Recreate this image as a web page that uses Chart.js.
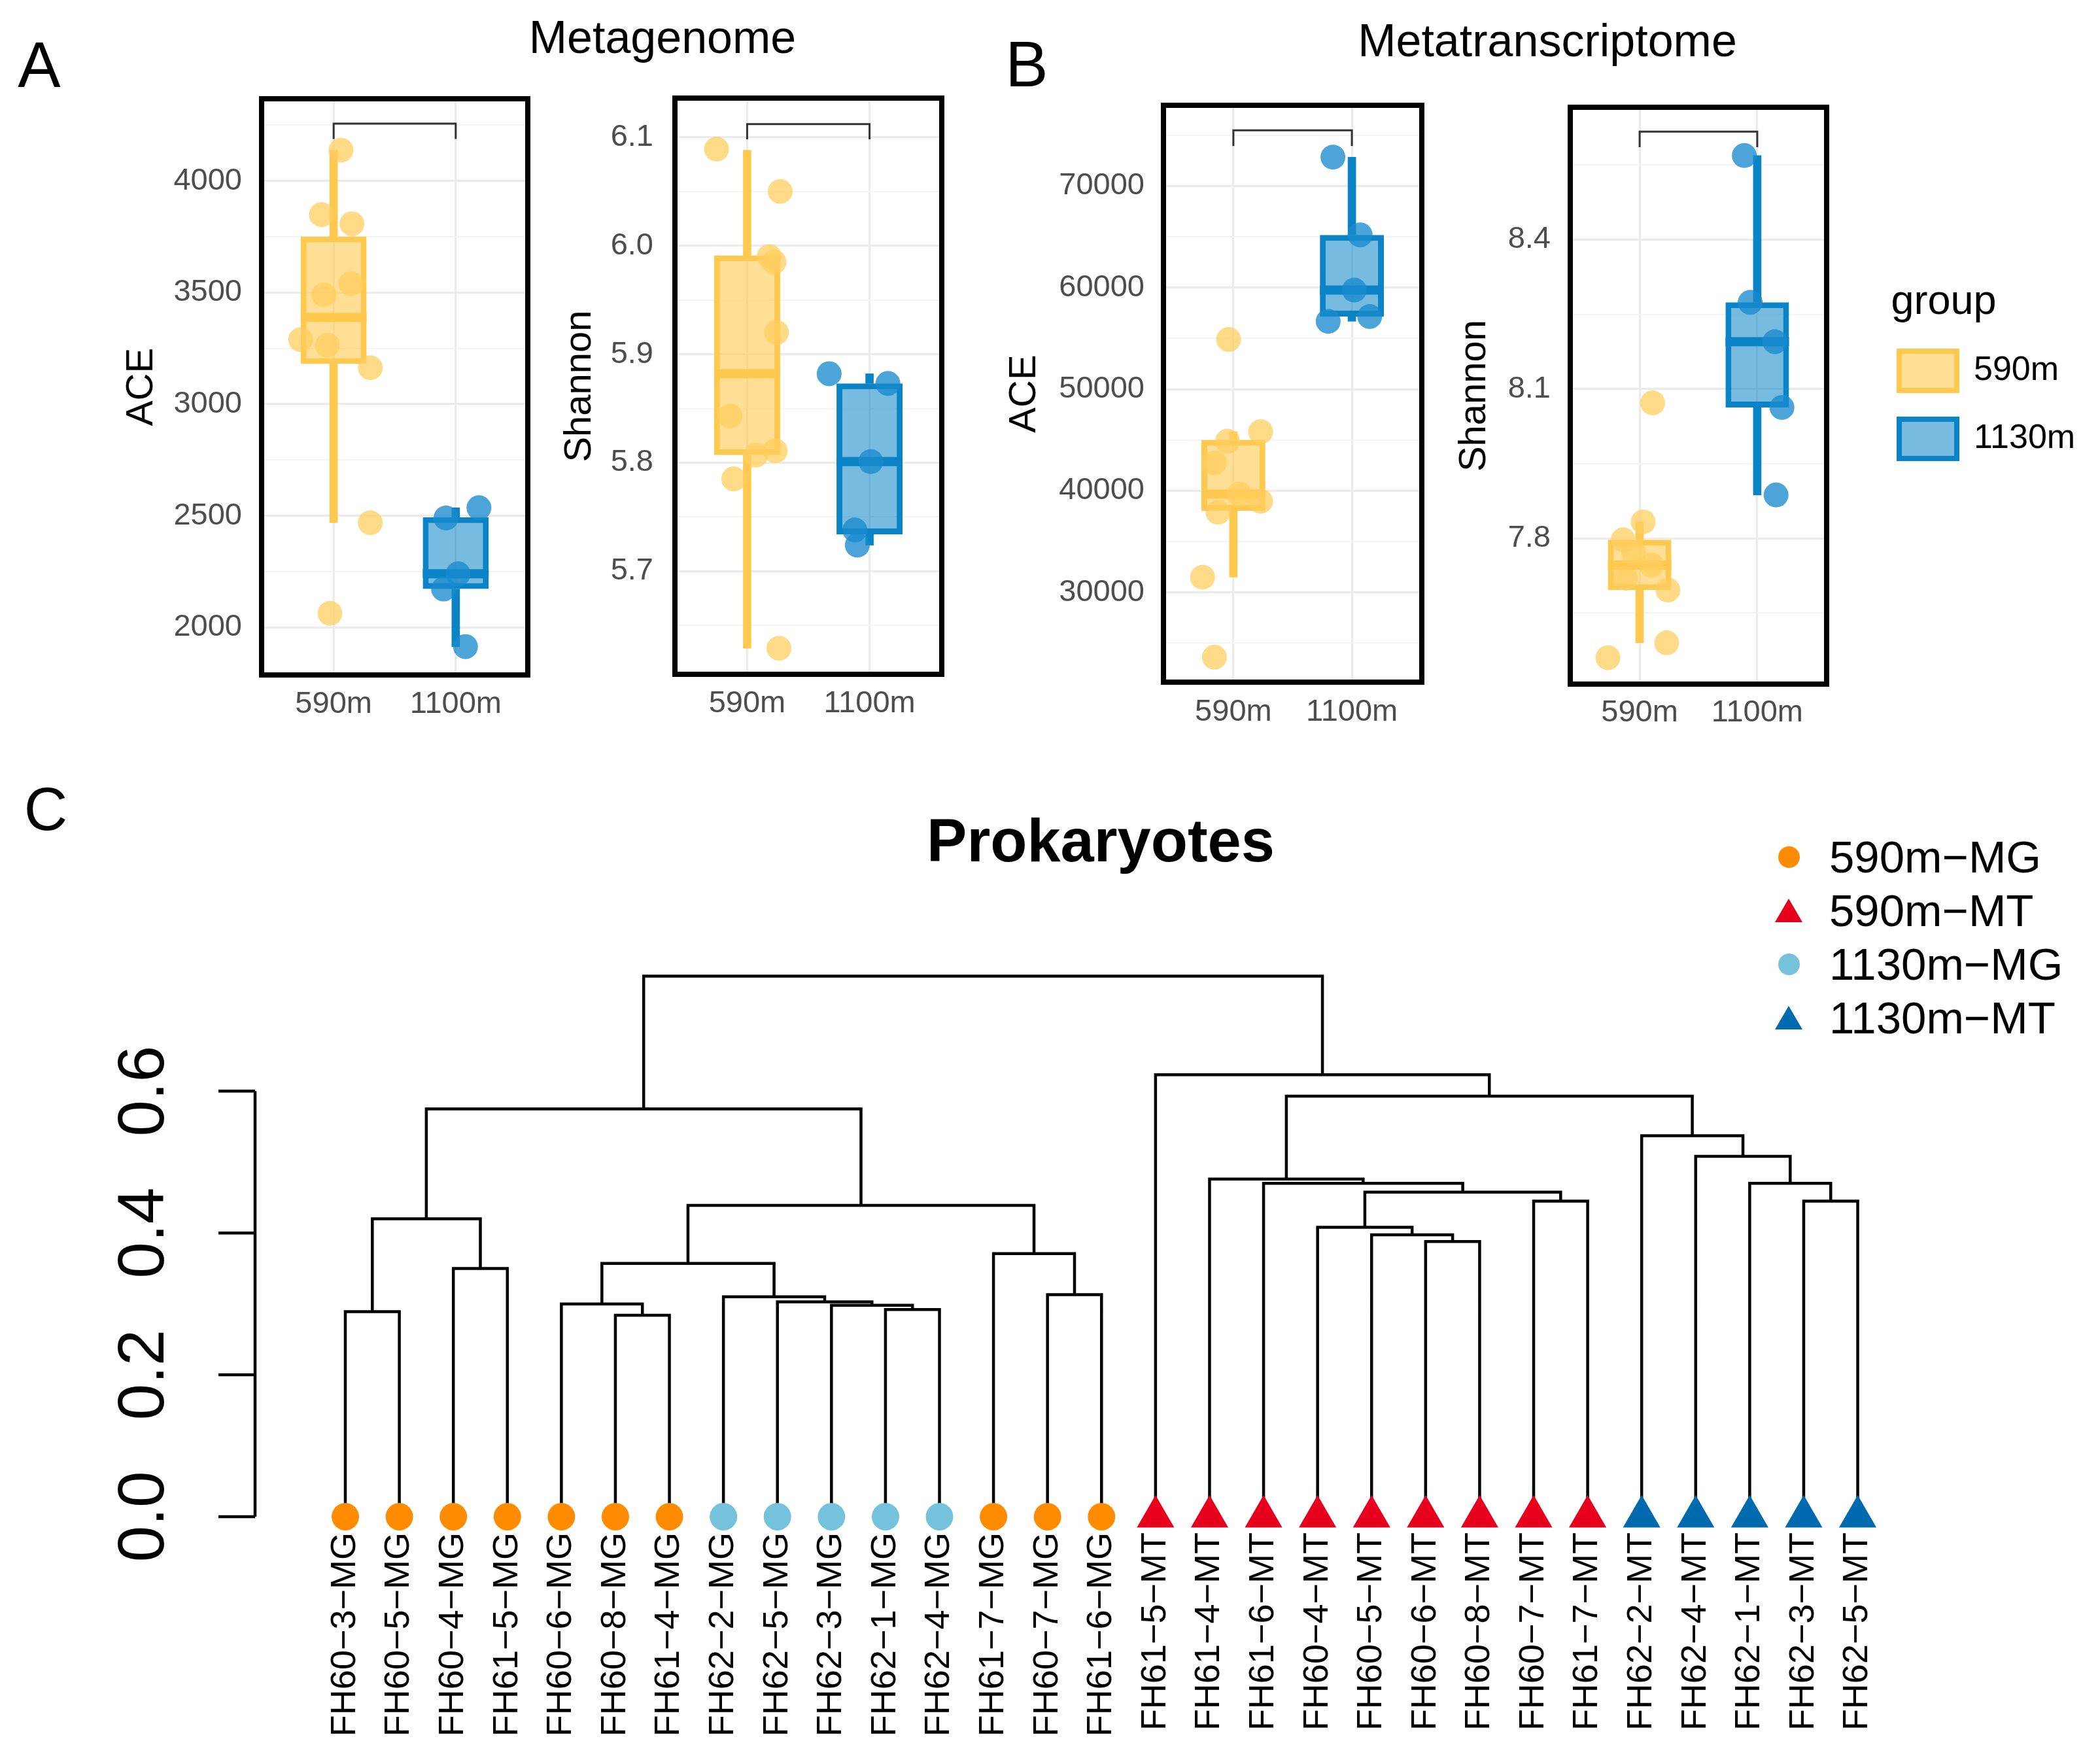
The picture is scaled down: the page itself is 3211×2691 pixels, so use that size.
<!DOCTYPE html>
<html>
<head>
<meta charset="utf-8">
<script src="https://cdn.jsdelivr.net/npm/chart.js@4.4.1/dist/chart.umd.min.js"></script>
<style>
  html, body { margin: 0; padding: 0; background: #fff; }
  body { width: 3211px; height: 2691px; position: relative; overflow: hidden; font-family: 'Liberation Sans', Arial, sans-serif; }
  canvas { position: absolute; }
  .t { position: absolute; transform: translate(-50%, -50%); white-space: nowrap; line-height: 1; color: #000; }
  .legrow { position: absolute; display: flex; align-items: center; height: 80px; font-size: 69px; line-height: 1; }
  .mk { width: 70px; display: flex; justify-content: center; align-items: center; margin-right: 27px; }
</style>
</head>
<body>
<div class="t" style="left:60px; top:99px; font-size:98px">A</div>
<div class="t" style="left:1570px; top:98px; font-size:98px">B</div>
<div class="t" style="left:70px; top:1237px; font-size:92px">C</div>
<div class="t" style="left:1013px; top:57px; font-size:70px">Metagenome</div>
<div class="t" style="left:2366px; top:62px; font-size:70px">Metatranscriptome</div>

<canvas id="cA1" width="700" height="1010" style="left:150px; top:110px"></canvas>
<canvas id="cA2" width="660" height="1010" style="left:820px; top:110px"></canvas>
<canvas id="cB1" width="700" height="1010" style="left:1500px; top:120px"></canvas>
<canvas id="cB2" width="1023" height="1010" style="left:2188px; top:120px"></canvas>
<canvas id="cC" width="3211" height="1541" style="left:0px; top:1150px"></canvas>
<div id="dleg"></div>

<script>
// ---- box plot data ----
const groups = ['590m', '1100m'];
const legendGroups = ['590m', '1130m'];

// A: metagenome, ACE
const mgAce590 = [4138, 3849, 3808, 3540, 3490, 3289, 3264, 3163, 2469, 2063];
const mgAce590Jit = [0.06, -0.10, 0.15, 0.14, -0.08, -0.27, -0.05, 0.30, 0.30, -0.03];
const mgAce1100 = [2536, 2490, 2240, 2172, 1914];
const mgAce1100Jit = [0.19, -0.08, 0.02, -0.10, 0.08];
const mgAceBox590 = [2469, 3180, 3389, 3751, 4138];   // lower whisker, Q1, median, Q3, upper whisker
const mgAceBox1100 = [1914, 2172, 2240, 2494, 2536];
const mgAceBracket = [4257, 4188];
const mgAceTicks = [2000, 2500, 3000, 3500, 4000];

// A: metagenome, Shannon
const mgSha590 = [6.089, 6.050, 5.990, 5.985, 5.920, 5.843, 5.811, 5.807, 5.785, 5.629];
const mgSha590Jit = [-0.25, 0.27, 0.18, 0.22, 0.24, -0.14, 0.23, 0.07, -0.11, 0.26];
const mgSha1100 = [5.882, 5.873, 5.801, 5.738, 5.724];
const mgSha1100Jit = [-0.33, 0.15, 0.01, -0.12, -0.10];
const mgShaBox590 = [5.629, 5.807, 5.882, 5.991, 6.088];
const mgShaBox1100 = [5.724, 5.734, 5.801, 5.873, 5.882];
const mgShaBracket = [6.112, 6.098];
const mgShaTicks = [5.7, 5.8, 5.9, 6.0, 6.1];

// B: metatranscriptome, ACE
const mtAce590 = [54888, 45820, 44880, 42750, 39680, 38970, 37890, 31500, 23625];
const mtAce590Jit = [-0.04, 0.23, -0.05, -0.16, 0.05, 0.23, -0.13, -0.26, -0.16];
const mtAce1100 = [72830, 65180, 59750, 57150, 56680];
const mtAce1100Jit = [-0.16, 0.07, 0.02, 0.15, -0.20];
const mtAceBox590 = [31500, 38030, 39680, 45018, 45820];
const mtAceBox1100 = [56680, 57150, 59750, 65180, 72830];
const mtAceBracket = [75480, 73920];
const mtAceTicks = [30000, 40000, 50000, 60000, 70000];

// B: metatranscriptome, Shannon
const mtSha590 = [8.072, 7.833, 7.797, 7.770, 7.746, 7.720, 7.696, 7.590, 7.560];
const mtSha590Jit = [0.11, 0.03, -0.14, -0.05, 0.10, -0.12, 0.24, 0.23, -0.27];
const mtSha1100 = [8.569, 8.274, 8.195, 8.063, 7.887];
const mtSha1100Jit = [-0.11, -0.06, 0.15, 0.21, 0.16];
const mtShaBox590 = [7.590, 7.696, 7.746, 7.797, 7.833];
const mtShaBox1100 = [7.887, 8.063, 8.195, 8.274, 8.569];
const mtShaBracket = [8.617, 8.586];
const mtShaTicks = [7.8, 8.1, 8.4];

// ---- dendrogram data ----
const leafNames = ['FH60-3-MG', 'FH60-5-MG', 'FH60-4-MG', 'FH61-5-MG', 'FH60-6-MG', 'FH60-8-MG', 'FH61-4-MG',
  'FH62-2-MG', 'FH62-5-MG', 'FH62-3-MG', 'FH62-1-MG', 'FH62-4-MG', 'FH61-7-MG', 'FH60-7-MG', 'FH61-6-MG',
  'FH61-5-MT', 'FH61-4-MT', 'FH61-6-MT', 'FH60-4-MT', 'FH60-5-MT', 'FH60-6-MT', 'FH60-8-MT', 'FH60-7-MT', 'FH61-7-MT',
  'FH62-2-MT', 'FH62-4-MT', 'FH62-1-MT', 'FH62-3-MT', 'FH62-5-MT'];
const dendroGroups = ['590m-MG', '590m-MT', '1130m-MG', '1130m-MT'];
const leafGroup = [0, 0, 0, 0, 0, 0, 0, 2, 2, 2, 2, 2, 0, 0, 0, 1, 1, 1, 1, 1, 1, 1, 1, 1, 3, 3, 3, 3, 3];
// hclust style merges: negative = leaf position, positive = earlier merge
const mergeA = [-6, -1, -11, -10, -5, -9, -8, -14, -3, 5, -13, -21, -20, -19, 2, 10, -23, -28, 14, -18, -27, -17, -26, -25, 15, 22, -16, 25];
const mergeB = [-7, -2, -12, 3, 1, 4, 6, -15, -4, 7, 8, -22, 12, 13, 9, 11, -24, -29, 17, 19, 18, 20, 21, 23, 16, 24, 26, 27];
const mergeH = [0.284, 0.289, 0.292, 0.298, 0.300, 0.303, 0.310, 0.313, 0.350, 0.357, 0.371, 0.388, 0.3975, 0.408,
  0.420, 0.439, 0.445, 0.445, 0.4575, 0.470, 0.470, 0.476, 0.508, 0.537, 0.575, 0.593, 0.623, 0.762];
const dendroTicks = [0, 0.2, 0.4, 0.6];

// ---- styles ----
const font = "'Liberation Sans', Arial, sans-serif";
const narrow = "'Liberation Sans Narrow', 'Liberation Sans', Arial, sans-serif";
const lineCol = ['#FFC84E', '#0A84C6'];
const boxFill = ['rgba(255,200,78,0.6)', 'rgba(10,132,198,0.55)'];
const ptFill = ['rgba(255,205,95,0.75)', 'rgba(25,138,205,0.78)'];
const markStyle = [
  {shape: 'circle', r: 21, color: '#FF8C00'},
  {shape: 'triangle', r: 33, color: '#E6001E'},
  {shape: 'circle', r: 21, color: '#74C2DB'},
  {shape: 'triangle', r: 33, color: '#006AAE'}
];

Chart.defaults.font.family = font;
Chart.defaults.animation = false;

const boxExtras = {
  id: 'boxExtras',
  afterDatasetDraw(chart, args, o) {
    if (chart.data.datasets[args.index].label !== 'box') return;
    const ctx = chart.ctx, ys = chart.scales.y;
    ctx.save();
    ctx.lineWidth = 14;
    args.meta.data.forEach((el, i) => {
      const py = ys.getPixelForValue(o.median[i]);
      ctx.strokeStyle = lineCol[i];
      ctx.beginPath();
      ctx.moveTo(el.x - el.width / 2, py);
      ctx.lineTo(el.x + el.width / 2, py);
      ctx.stroke();
    });
    ctx.restore();
  },
  afterDraw(chart, args, o) {
    const ctx = chart.ctx, xs = chart.scales.x, ys = chart.scales.y, a = chart.chartArea;
    const x0 = xs.getPixelForValue(0), x1 = xs.getPixelForValue(1);
    const yt = ys.getPixelForValue(o.bracket[0]), yb = ys.getPixelForValue(o.bracket[1]);
    ctx.save();
    ctx.strokeStyle = '#333';
    ctx.lineWidth = 3;
    ctx.beginPath();
    ctx.moveTo(x0, yb); ctx.lineTo(x0, yt); ctx.lineTo(x1, yt); ctx.lineTo(x1, yb);
    ctx.stroke();
    ctx.strokeStyle = '#000';
    ctx.lineWidth = 8;
    ctx.strokeRect(a.left, a.top, a.width, a.height);
    ctx.restore();
  }
};

function boxChart(id, c) {
  const step = c.ticks[1] - c.ticks[0];
  const [lo, hi] = c.range;
  const gridVals = [];
  for (let k = Math.ceil((lo - c.ticks[0]) / (step / 2)); c.ticks[0] + k * step / 2 <= hi; k++) {
    gridVals.push(+(c.ticks[0] + k * step / 2).toFixed(6));
  }
  const isMajor = v => c.ticks.some(t => Math.abs(t - v) < step * 1e-6);
  const pts = [], ptCol = [];
  c.pts.forEach((arr, g) => arr.forEach((v, j) => { pts.push({x: g + c.jit[g][j], y: v}); ptCol.push(ptFill[g]); }));
  const barOpts = {type: 'bar', grouped: false, categoryPercentage: 1, borderSkipped: false};

  const options = {
    responsive: false,
    devicePixelRatio: 1,
    layout: {autoPadding: false, padding: {top: c.area.t - c.canvas.t, right: c.padRight, left: 0, bottom: 0}},
    plugins: {
      legend: {display: false},
      tooltip: {enabled: false},
      boxExtras: {median: c.boxes.map(b => b[2]), bracket: c.bracket}
    },
    scales: {
      x: {
        type: 'linear', min: -0.59, max: 1.59, offset: false,
        afterBuildTicks: s => { s.ticks = groups.map((g, i) => ({value: i})); },
        afterFit: s => { s.height = c.canvas.t + c.canvas.h - c.area.b; s.paddingLeft = 0; s.paddingRight = 0; },
        ticks: {callback: v => groups[v], font: {size: 47}, color: '#4D4D4D', padding: c.xPad, autoSkip: false, maxRotation: 0},
        grid: {color: '#EBEBEB', lineWidth: 3, drawTicks: false, offset: false},
        border: {display: false}
      },
      y: {
        type: 'linear', min: lo, max: hi,
        afterBuildTicks: s => { s.ticks = gridVals.map(v => ({value: v, major: isMajor(v)})); },
        afterFit: s => { s.width = c.area.l - c.canvas.l; s.paddingTop = 0; s.paddingBottom = 0; },
        ticks: {
          callback: (v, i, t) => t[i].major ? v.toFixed(c.dec) : '',
          font: {size: 47}, color: '#4D4D4D', padding: c.yPad, autoSkip: false
        },
        grid: {
          color: ctx => ctx.tick && ctx.tick.major ? '#EBEBEB' : '#F3F3F3',
          lineWidth: ctx => ctx.tick && ctx.tick.major ? 3 : 2,
          drawTicks: false
        },
        border: {display: false},
        title: {display: true, text: c.title, font: {size: 58}, color: '#000', padding: {top: 32, bottom: 0}}
      }
    }
  };
  if (c.legend) {
    options.scales.sp = {
      position: 'right', min: 0, max: 1,
      afterFit: s => { s.width = c.legend.spacer; s.paddingTop = 0; s.paddingBottom = 0; },
      ticks: {display: false}, grid: {display: false, drawTicks: false}, border: {display: false}
    };
    options.plugins.legend = {
      display: true, position: 'right', align: 'start', maxWidth: 320,
      title: {display: true, text: '\u2002group', color: '#000', font: {size: 63, lineHeight: 1}, position: 'start',
        padding: {top: 267, bottom: -1}},
      labels: {
        boxWidth: 88, boxHeight: 60, padding: 44, color: '#000', font: {size: 52},
        generateLabels: () => legendGroups.map((g, i) => ({
          text: g, fillStyle: boxFill[i], strokeStyle: lineCol[i], lineWidth: 8, hidden: false, datasetIndex: i
        }))
      }
    };
  }

  return new Chart(document.getElementById(id), {
    type: 'bar',
    data: {
      datasets: [
        Object.assign({label: 'lowWhisker', data: c.boxes.map((b, i) => ({x: i, y: [b[0], b[1]]})),
          backgroundColor: lineCol, barPercentage: 1, maxBarThickness: 12, order: 3}, barOpts),
        Object.assign({label: 'highWhisker', data: c.boxes.map((b, i) => ({x: i, y: [b[3], b[4]]})),
          backgroundColor: lineCol, barPercentage: 1, maxBarThickness: 12, order: 2}, barOpts),
        Object.assign({label: 'box', data: c.boxes.map((b, i) => ({x: i, y: [b[1], b[3]]})),
          backgroundColor: boxFill, borderColor: lineCol, borderWidth: 9, barPercentage: 0.54, order: 1}, barOpts),
        {label: 'points', type: 'scatter', data: pts, pointBackgroundColor: ptCol, pointBorderWidth: 0,
          pointRadius: 19, order: 0}
      ]
    },
    options: options,
    plugins: [boxExtras]
  });
}

boxChart('cA1', {
  pts: [mgAce590, mgAce1100], jit: [mgAce590Jit, mgAce1100Jit], boxes: [mgAceBox590, mgAceBox1100],
  bracket: mgAceBracket, ticks: mgAceTicks, range: [1787, 4368], dec: 0, title: 'ACE',
  canvas: {l: 150, t: 110, h: 1010}, area: {l: 400, t: 151, b: 1032}, padRight: 43, yPad: 30, xPad: 17
});
boxChart('cA2', {
  pts: [mgSha590, mgSha1100], jit: [mgSha590Jit, mgSha1100Jit], boxes: [mgShaBox590, mgShaBox1100],
  bracket: mgShaBracket, ticks: mgShaTicks, range: [5.605, 6.136], dec: 1, title: 'Shannon',
  canvas: {l: 820, t: 110, h: 1010}, area: {l: 1032, t: 150, b: 1031}, padRight: 40, yPad: 33, xPad: 17
});
boxChart('cB1', {
  pts: [mtAce590, mtAce1100], jit: [mtAce590Jit, mtAce1100Jit], boxes: [mtAceBox590, mtAceBox1100],
  bracket: mtAceBracket, ticks: mtAceTicks, range: [21169, 77934], dec: 0, title: 'ACE',
  canvas: {l: 1500, t: 120, h: 1010}, area: {l: 1779, t: 161, b: 1043}, padRight: 26, yPad: 29, xPad: 18
});
boxChart('cB2', {
  pts: [mtSha590, mtSha1100], jit: [mtSha590Jit, mtSha1100Jit], boxes: [mtShaBox590, mtShaBox1100],
  bracket: mtShaBracket, ticks: mtShaTicks, range: [7.507, 8.666], dec: 1, title: 'Shannon',
  canvas: {l: 2188, t: 120, h: 1010}, area: {l: 2401, t: 164, b: 1046}, padRight: 31, yPad: 30, xPad: 16,
  legend: {spacer: 67}
});

// ---- dendrogram ----
const nodeX = [], nodeH = [];
const pos = k => k < 0 ? {x: -k, h: 0} : {x: nodeX[k - 1], h: nodeH[k - 1]};
const segs = [];
mergeH.forEach((h, i) => {
  const a = pos(mergeA[i]), b = pos(mergeB[i]);
  segs.push({x: a.x, y: a.h}, {x: a.x, y: h}, {x: b.x, y: h}, {x: b.x, y: b.h}, {x: b.x, y: null});
  nodeX.push((a.x + b.x) / 2);
  nodeH.push(h);
});

const dendroAxis = {
  id: 'dendroAxis',
  afterDraw(chart, args, o) {
    const ys = chart.scales.y, ctx = chart.ctx, x0 = chart.chartArea.left;
    ctx.save();
    ctx.strokeStyle = '#000';
    ctx.lineWidth = 4.5;
    ctx.beginPath();
    ctx.moveTo(x0, ys.getPixelForValue(o.ticks[0]));
    ctx.lineTo(x0, ys.getPixelForValue(o.ticks[o.ticks.length - 1]));
    o.ticks.forEach(v => {
      const py = ys.getPixelForValue(v);
      ctx.moveTo(x0, py);
      ctx.lineTo(x0 - 56, py);
    });
    ctx.stroke();
    ctx.fillStyle = '#000';
    ctx.font = '100px ' + narrow;
    ctx.textAlign = 'center';
    ctx.textBaseline = 'middle';
    o.ticks.forEach(v => {
      ctx.save();
      ctx.translate(x0 - 168, ys.getPixelForValue(v));
      ctx.rotate(-Math.PI / 2);
      ctx.fillText(v.toFixed(1), 0, 0);
      ctx.restore();
    });
    ctx.restore();
  }
};

new Chart(document.getElementById('cC'), {
  type: 'scatter',
  data: {
    datasets: [
      {label: 'tree', data: segs, showLine: true, borderColor: '#000', borderWidth: 4.5, pointRadius: 0,
        spanGaps: false, order: 1, clip: false}
    ].concat(dendroGroups.map((g, gi) => ({
      label: g,
      data: leafNames.map((n, i) => ({x: i + 1, y: 0, g: leafGroup[i]})).filter(p => p.g === gi),
      pointStyle: markStyle[gi].shape, pointRadius: markStyle[gi].r,
      pointBackgroundColor: markStyle[gi].color, pointBorderWidth: 0, order: 0, clip: false
    })))
  },
  options: {
    responsive: false,
    devicePixelRatio: 1,
    layout: {autoPadding: false, padding: {left: 390, right: 235, top: 0, bottom: 0}},
    plugins: {
      legend: {display: false},
      tooltip: {enabled: false},
      title: {display: true, text: 'Prokaryotes', color: '#000', fullSize: false,
        font: {size: 92, weight: 'bold'}, padding: {top: 86, bottom: 105}},
      dendroAxis: {ticks: dendroTicks}
    },
    scales: {
      x: {
        type: 'linear', min: -0.671, max: 30.64,
        afterBuildTicks: s => { s.ticks = leafNames.map((n, i) => ({value: i + 1})); },
        afterFit: s => { s.height = 359; },
        ticks: {callback: v => leafNames[v - 1].replace(/-/g, '\u2212'), autoSkip: false, minRotation: 90, maxRotation: 90,
          font: {size: 54, family: narrow}, color: '#000', padding: 11},
        grid: {display: false, drawTicks: false},
        border: {display: false}
      },
      y: {type: 'linear', display: false, min: -0.012, max: 0.80}
    }
  },
  plugins: [dendroAxis]
});

// dendrogram legend (HTML)
const leg = document.getElementById('dleg');
dendroGroups.forEach((g, gi) => {
  const row = document.createElement('div');
  row.className = 'legrow';
  row.style.left = '2700px';
  row.style.top = (1310 + gi * 82 - 40) + 'px';
  const mk = document.createElement('div');
  mk.className = 'mk';
  const s = document.createElement('div');
  const m = markStyle[gi];
  if (m.shape === 'circle') {
    s.style.cssText = 'width:33px;height:33px;border-radius:50%;background:' + m.color;
  } else {
    s.style.cssText = 'width:0;height:0;border-left:21px solid transparent;border-right:21px solid transparent;border-bottom:36px solid ' + m.color;
  }
  mk.appendChild(s);
  const txt = document.createElement('span');
  txt.textContent = g.replace(/-/g, '\u2212');
  row.appendChild(mk);
  row.appendChild(txt);
  leg.appendChild(row);
});
</script>
</body>
</html>
